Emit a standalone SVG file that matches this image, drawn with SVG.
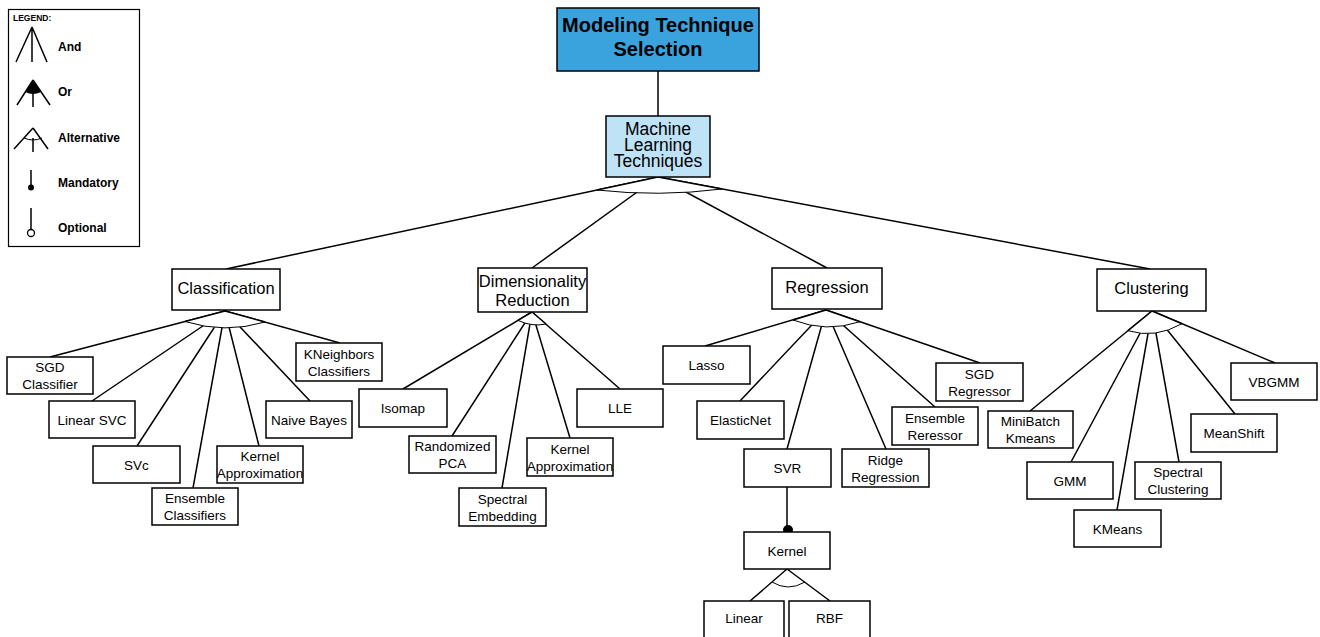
<svg xmlns="http://www.w3.org/2000/svg" width="1320" height="637" viewBox="0 0 1320 637">
<style>
.bx{fill:#fff;stroke:#000;stroke-width:1.5}
.t{font-family:"Liberation Sans",Arial,sans-serif;font-size:13.5px;text-anchor:middle;fill:#000}
.tp{font-family:"Liberation Sans",Arial,sans-serif;font-size:16.5px;text-anchor:middle;fill:#000}
.ln{stroke:#000;stroke-width:1.5;fill:none}
.wf{fill:#fff;stroke:none}
.wa{fill:none;stroke:#000;stroke-width:1}
.lg{font-family:"Liberation Sans",Arial,sans-serif;font-weight:bold;font-size:12px;fill:#000}
</style>
<rect width="1320" height="637" fill="#fff"/>

<g id="legend">
<rect x="8.5" y="9.5" width="131" height="237" fill="#fff" stroke="#000" stroke-width="1.2"/>
<text x="13" y="21" class="lg" style="font-size:8.5px">LEGEND:</text>
<path class="ln" d="M32,27 L16,62 M32,27 L47,62 M32,27 L32,62"/>
<text x="58" y="51" class="lg">And</text>
<path class="ln" d="M33,80 L17,105 M33,80 L50,105 M33,80 L33,107"/>
<path d="M33,80 L25.3,92 Q33,96 41,92 Z" fill="#000"/>
<text x="58" y="96" class="lg">Or</text>
<path class="ln" d="M33,128 L14,149 M33,128 L48,149 M33,138 L33,152"/>
<path class="wa" d="M24,138 Q33,142 42,138"/>
<text x="58" y="142" class="lg">Alternative</text>
<path class="ln" d="M31,170 L31,186"/>
<circle cx="31" cy="187.5" r="3" fill="#000"/>
<text x="58" y="187" class="lg">Mandatory</text>
<path class="ln" d="M31,208 L31,229.5"/>
<circle cx="31" cy="233" r="3.5" fill="#fff" stroke="#000" stroke-width="1.3"/>
<text x="58" y="232" class="lg">Optional</text>
</g>

<g id="connectors">
<line class="ln" x1="658" y1="71" x2="658" y2="116"/>
<path class="ln" d="M658,177 L226,269 M658,177 L532,268 M658,177 L827,268 M658,177 L1150,269"/>
<path class="wf" d="M658,177 L597,190 Q659,197 722,189 Z"/>
<path class="wa" d="M597,190 Q659,197 722,189"/>
<path class="ln" d="M658,177 L597,190 M658,177 L722,189"/>
<path class="ln" d="M225,311 L50,357 M225,311 L92,401 M225,311 L137,446 M225,311 L193,488 M225,311 L259,446 M225,311 L310,401 M225,311 L340,343"/>
<path class="wf" d="M225,311 L185,321.5 Q225,334 265,322 Z"/>
<path class="wa" d="M185,321.5 Q225,334 265,322"/>
<path class="ln" d="M225,311 L185,321.5 M225,311 L265,322"/>
<path class="ln" d="M532,312 L403,389 M532,312 L452,436 M532,312 L502,488 M532,312 L570,438 M532,312 L620,389"/>
<path class="wf" d="M532,312 L518,320.4 Q532,327 546,324 Z"/>
<path class="wa" d="M518,320.4 Q532,327 546,324"/>
<path class="ln" d="M532,312 L518,320.4 M532,312 L546,324"/>
<path class="ln" d="M826,310 L705,346 M826,310 L740,401 M826,310 L787,449 M826,310 L886,449 M826,310 L935,407 M826,310 L980,363"/>
<path class="wf" d="M826,310 L793,320 Q826,333 860,321.7 Z"/>
<path class="wa" d="M793,320 Q826,333 860,321.7"/>
<path class="ln" d="M826,310 L793,320 M826,310 L860,321.7"/>
<line class="ln" x1="787" y1="487" x2="787" y2="531"/>
<circle cx="788" cy="530" r="5" fill="#000"/>
<path class="ln" d="M787,569 L750,601 M787,569 L830,601"/>
<path class="wa" d="M772,582 Q788,592 805,582"/>
<path class="ln" d="M1152,311 L1030,411 M1152,311 L1071,462 M1152,311 L1117,510 M1152,311 L1179,462 M1152,311 L1235,414 M1152,311 L1275,363"/>
<path class="wf" d="M1152,311 L1128,330.7 Q1155,339 1182,323.7 Z"/>
<path class="wa" d="M1128,330.7 Q1155,339 1182,323.7"/>
<path class="ln" d="M1152,311 L1128,330.7 M1152,311 L1182,323.7"/>
</g>

<g id="root">
<rect x="557" y="8" width="202" height="63" fill="#3AA3DE" stroke="#000" stroke-width="1.5"/>
<text x="658" y="32" class="tp" style="font-size:20px;font-weight:bold">Modeling Technique</text>
<text x="658" y="56" class="tp" style="font-size:20px;font-weight:bold">Selection</text>
</g>
<g id="ml">
<rect x="606" y="116" width="104" height="61" fill="#BEE3F6" stroke="#000" stroke-width="1.5"/>
<text x="658" y="135" class="tp" style="font-size:17.5px">Machine</text>
<text x="658" y="151" class="tp" style="font-size:17.5px">Learning</text>
<text x="658" y="167" class="tp" style="font-size:17.5px">Techniques</text>
</g>

<g id="classification"><rect class="bx" x="172" y="269" width="108" height="41"/><text class="tp" x="226" y="294">Classification</text></g>
<g id="dimred"><rect class="bx" x="478" y="268" width="109" height="44"/><text class="tp" x="532.5" y="287">Dimensionality</text><text class="tp" x="532.5" y="306">Reduction</text></g>
<g id="regression"><rect class="bx" x="772" y="268" width="110" height="41"/><text class="tp" x="827" y="293">Regression</text></g>
<g id="clustering"><rect class="bx" x="1097" y="269" width="109" height="42"/><text class="tp" x="1151.5" y="294">Clustering</text></g>

<g id="sgdc"><rect class="bx" x="7" y="357" width="86" height="37"/><text class="t" x="50" y="372">SGD</text><text class="t" x="50" y="389">Classifier</text></g>
<g id="linsvc"><rect class="bx" x="49" y="401" width="86" height="37"/><text class="t" x="92" y="424.5">Linear SVC</text></g>
<g id="svc"><rect class="bx" x="93" y="446" width="87" height="37"/><text class="t" x="136.5" y="469.5">SVc</text></g>
<g id="ensc"><rect class="bx" x="152" y="488" width="86" height="37"/><text class="t" x="195" y="503">Ensemble</text><text class="t" x="195" y="520">Classifiers</text></g>
<g id="kac"><rect class="bx" x="217" y="446" width="86" height="37"/><text class="t" x="260" y="461">Kernel</text><text class="t" x="260" y="478">Approximation</text></g>
<g id="nb"><rect class="bx" x="266" y="401" width="86" height="37"/><text class="t" x="309" y="424.5">Naive Bayes</text></g>
<g id="knn"><rect class="bx" x="296" y="343" width="86" height="38"/><text class="t" x="339" y="358.5">KNeighbors</text><text class="t" x="339" y="375.5">Classifiers</text></g>

<g id="isomap"><rect class="bx" x="359" y="389" width="88" height="38"/><text class="t" x="403" y="413">Isomap</text></g>
<g id="rpca"><rect class="bx" x="409" y="436" width="87" height="37"/><text class="t" x="452.5" y="451">Randomized</text><text class="t" x="452.5" y="468">PCA</text></g>
<g id="spemb"><rect class="bx" x="459" y="488" width="87" height="38"/><text class="t" x="502.5" y="503.5">Spectral</text><text class="t" x="502.5" y="520.5">Embedding</text></g>
<g id="kad"><rect class="bx" x="527" y="438" width="86" height="38"/><text class="t" x="570" y="453.5">Kernel</text><text class="t" x="570" y="470.5">Approximation</text></g>
<g id="lle"><rect class="bx" x="577" y="389" width="86" height="38"/><text class="t" x="620" y="413">LLE</text></g>

<g id="lasso"><rect class="bx" x="663" y="346" width="87" height="38"/><text class="t" x="706.5" y="370">Lasso</text></g>
<g id="enet"><rect class="bx" x="697" y="401" width="87" height="38"/><text class="t" x="740.5" y="425">ElasticNet</text></g>
<g id="svr"><rect class="bx" x="744" y="449" width="87" height="38"/><text class="t" x="787.5" y="473">SVR</text></g>
<g id="ridge"><rect class="bx" x="842" y="449" width="87" height="38"/><text class="t" x="885.5" y="464.5">Ridge</text><text class="t" x="885.5" y="481.5">Regression</text></g>
<g id="ensr"><rect class="bx" x="892" y="407" width="86" height="38"/><text class="t" x="935" y="422.5">Ensemble</text><text class="t" x="935" y="439.5">Reressor</text></g>
<g id="sgdr"><rect class="bx" x="936" y="363" width="87" height="38"/><text class="t" x="979.5" y="378.5">SGD</text><text class="t" x="979.5" y="395.5">Regressor</text></g>
<g id="kernel"><rect class="bx" x="744" y="532" width="86" height="37"/><text class="t" x="787" y="555.5">Kernel</text></g>
<g id="linear"><rect class="bx" x="704" y="601" width="80" height="45"/><text class="t" x="744" y="623">Linear</text></g>
<g id="rbf"><rect class="bx" x="789" y="601" width="81" height="45"/><text class="t" x="829.5" y="623">RBF</text></g>

<g id="mbk"><rect class="bx" x="988" y="411" width="85" height="37"/><text class="t" x="1030.5" y="426">MiniBatch</text><text class="t" x="1030.5" y="443">Kmeans</text></g>
<g id="gmm"><rect class="bx" x="1027" y="462" width="86" height="37"/><text class="t" x="1070" y="485.5">GMM</text></g>
<g id="kmeans"><rect class="bx" x="1074" y="510" width="87" height="37"/><text class="t" x="1117.5" y="533.5">KMeans</text></g>
<g id="specc"><rect class="bx" x="1135" y="462" width="86" height="37"/><text class="t" x="1178" y="477">Spectral</text><text class="t" x="1178" y="494">Clustering</text></g>
<g id="meanshift"><rect class="bx" x="1191" y="414" width="86" height="38"/><text class="t" x="1234" y="438">MeanShift</text></g>
<g id="vbgmm"><rect class="bx" x="1231" y="363" width="86" height="37"/><text class="t" x="1274" y="386.5">VBGMM</text></g>
</svg>
